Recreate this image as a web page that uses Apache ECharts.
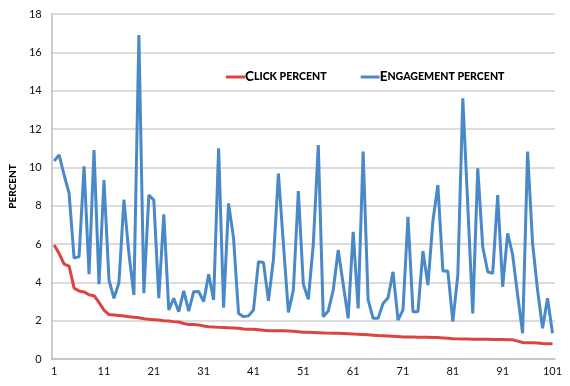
<!DOCTYPE html>
<html>
<head>
<meta charset="utf-8">
<script src="https://cdn.jsdelivr.net/npm/echarts@6/dist/echarts.min.js"></script>
<style>html,body{margin:0;padding:0;background:#fff}#c{width:570px;height:386px}</style>
</head>
<body>
<div id="c"></div>
<script>
const categories = Array.from({length: 101}, (_, i) => String(i + 1));
const clickPercent = [5.95,5.5,4.95,4.85,3.7,3.55,3.5,3.35,3.3,2.95,2.55,2.32,2.3,2.27,2.24,2.2,2.18,2.15,2.1,2.07,2.05,2.03,2.0,1.98,1.95,1.93,1.85,1.8,1.8,1.78,1.72,1.68,1.67,1.65,1.64,1.63,1.62,1.6,1.56,1.55,1.55,1.53,1.5,1.48,1.48,1.48,1.47,1.46,1.45,1.42,1.4,1.39,1.38,1.37,1.36,1.35,1.34,1.34,1.33,1.32,1.3,1.29,1.28,1.26,1.24,1.22,1.21,1.2,1.19,1.17,1.15,1.15,1.15,1.14,1.14,1.13,1.12,1.12,1.1,1.08,1.06,1.05,1.04,1.04,1.03,1.03,1.03,1.03,1.02,1.02,1.02,1.01,1.0,0.93,0.86,0.85,0.85,0.84,0.81,0.8,0.8];
const engagementPercent = [10.33,10.65,9.6,8.64,5.26,5.34,10.05,4.42,10.9,3.9,9.34,4.12,3.17,3.98,8.31,5.5,3.34,16.9,3.43,8.55,8.29,3.17,7.55,2.56,3.17,2.47,3.55,2.5,3.51,3.52,2.99,4.42,3.08,10.99,2.68,8.12,6.3,2.38,2.21,2.25,2.56,5.08,5.04,3.03,5.2,9.68,6.0,2.43,3.6,8.76,3.9,3.11,6.0,11.16,2.21,2.5,3.6,5.69,3.9,2.12,6.64,2.64,10.82,3.08,2.12,2.12,2.9,3.2,4.55,2.03,2.56,7.42,2.47,2.47,5.63,3.86,7.2,9.08,4.59,4.59,1.95,4.38,13.6,8.0,2.38,9.95,5.86,4.55,4.47,8.55,3.77,6.56,5.43,3.34,1.34,10.82,6.03,3.6,1.6,3.17,1.34];
const seriesNames = ['Click percent', 'Engagement percent'];
const yTicks = {min: 0, max: 18, interval: 2};

const chart = echarts.init(document.getElementById('c'));
chart.setOption({
  animation: false,
  backgroundColor: '#fff',
  grid: {left: 45, right: 15, top: 14, bottom: 27},
  legend: {
    left: 221, top: 65,
    icon: 'rect', itemWidth: 19, itemHeight: 3, itemGap: 34,
    data: seriesNames,
    formatter: function (name) {
      const up = name.toUpperCase();
      return '{big|' + up.charAt(0) + '}{small|' + up.slice(1) + '}';
    },
    textStyle: {
      padding: [0, 0, 0, -5],
      rich: {
        big: {fontFamily: 'Lato', fontWeight: 900, fontSize: 13.5, color: '#000'},
        small: {fontFamily: 'Lato', fontWeight: 900, fontSize: 10.6, color: '#000'}
      }
    }
  },
  xAxis: {
    type: 'category', data: categories, boundaryGap: true,
    axisTick: {show: false},
    axisLine: {lineStyle: {color: '#bdbdbd', width: 1.5}},
    axisLabel: {interval: 9, color: '#111', fontFamily: 'Lato', fontSize: 11, margin: 7}
  },
  yAxis: {
    type: 'value', min: yTicks.min, max: yTicks.max, interval: yTicks.interval,
    name: 'PERCENT', nameLocation: 'middle', nameRotate: 90, nameGap: 29,
    nameTextStyle: {fontFamily: 'Lato', fontWeight: 900, fontSize: 10, color: '#000'},
    axisLine: {show: true, lineStyle: {color: '#bdbdbd', width: 1.5}},
    axisTick: {show: false},
    splitLine: {lineStyle: {color: '#d0d0d0', width: 1.5}},
    axisLabel: {color: '#111', fontFamily: 'Lato', fontSize: 11, margin: 10}
  },
  series: [
    {name: seriesNames[0], type: 'line', data: clickPercent, showSymbol: false,
     lineStyle: {color: '#dc4440', width: 3}, itemStyle: {color: '#dc4440'}},
    {name: seriesNames[1], type: 'line', data: engagementPercent, showSymbol: false,
     lineStyle: {color: '#4a89c8', width: 3}, itemStyle: {color: '#4a89c8'}}
  ]
});
</script>
</body>
</html>
